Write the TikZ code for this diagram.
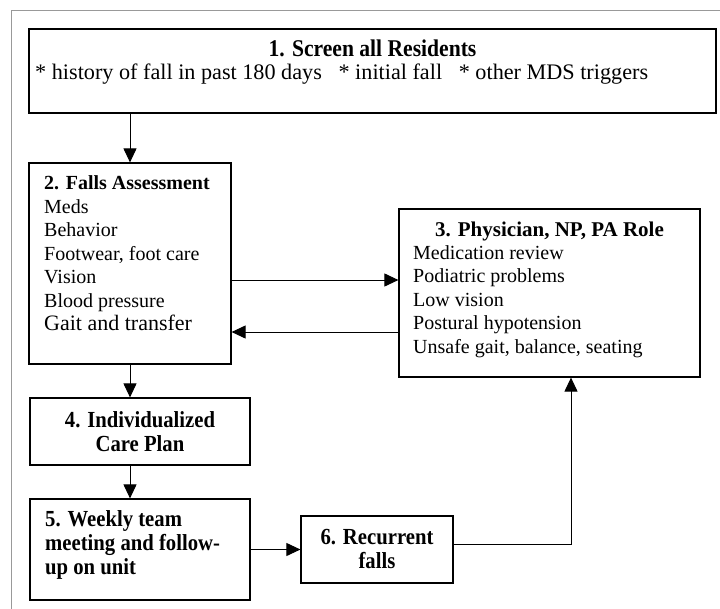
\documentclass[tikz,border=0pt]{standalone}
\usepackage{fontspec}
\setmainfont{Liberation Serif}
\newfontfamily\condfont[FakeStretch=0.9]{Liberation Serif}
\usetikzlibrary{arrows.meta}

\tikzset{
  box/.style={draw, line width=1.2pt, inner sep=0pt},
  txt/.style={inner sep=0pt, font=\fontsize{20}{23.5}\selectfont},
  head/.style={inner sep=0pt, font=\fontsize{21}{23.5}\selectfont\bfseries},
  condhead/.style={inner sep=0pt, font=\condfont\fontsize{23}{24}\selectfont\bfseries},
  arr/.style={line width=1pt, -{Triangle[length=14pt,width=13pt]}}
}

\begin{document}
\begin{tikzpicture}[x=1pt, y=-1pt]
    \useasboundingbox (0,0) rectangle (720,608);

    % Frame
    \draw[gray!80, line width=0.9pt] (11,630) -- (11,10.5) -- (740,10.5);

    % Boxes
    \node[box, minimum width=687pt, minimum height=84pt] (screen) at (372.5,71) {};
    \node[box, minimum width=202pt, minimum height=201pt] (assess) at (130,263.5) {};
    \node[box, minimum width=301pt, minimum height=168pt] (role) at (549.5,293) {};
    \node[box, minimum width=220pt, minimum height=67pt] (plan) at (140,431.5) {};
    \node[box, minimum width=220pt, minimum height=101pt] (meet) at (140,549.5) {};
    \node[box, minimum width=152pt, minimum height=67pt] (recur) at (377,549.5) {};

    % Texts
    \node[condhead, anchor=north, font=\condfont\fontsize{24}{24}\selectfont\bfseries] (screenhead) at (372.5,39.5)
        {1. Screen all Residents};
    \node[txt, anchor=north west, font=\fontsize{22.2}{24}\selectfont] (screentxt) at (35,64)
        {* history of fall in past 180 days\hspace{0.5em} * initial fall\hspace{0.5em} * other MDS triggers};
    \node[txt, anchor=north west, align=left] (assesstxt) at (44,175.5)
        {\textbf{2. Falls Assessment}\\Meds\\Behavior\\Footwear, foot care\\Vision\\Blood pressure\\
         {\fontsize{22}{23.5}\selectfont Gait and transfer}};
    \node[head, anchor=north] (rolehead) at (549.5,222) {3. Physician, NP, PA Role};
    \node[txt, anchor=north west, align=left] (roletxt) at (413,245)
        {Medication review\\Podiatric problems\\Low vision\\Postural hypotension\\Unsafe gait, balance, seating};
    \node[condhead, anchor=north, align=center] (plantxt) at (140,411) {4. Individualized\\Care Plan};
    \node[condhead, anchor=north west, align=left] (meettxt) at (45,510.5)
        {5. Weekly team\\meeting and follow-\\up on unit};
    \node[condhead, anchor=north, align=center] (recurtxt) at (377,529) {6. Recurrent\\falls};

    % Arrows
    \draw[arr] (screen.south -| assess.north) -- (assess.north);
    \draw[arr] ([yshift=-16.5pt]assess.east) -- ([yshift=-16.5pt]assess.east -| role.west);
    \draw[arr] ([yshift=-39pt]role.west) -- ([yshift=-39pt]role.west -| assess.east);
    \draw[arr] (assess.south) -- (assess.south |- plan.north);
    \draw[arr] (plan.south -| assess.south) -- (meet.north -| assess.south);
    \draw[arr] (meet.east) -- (recur.west);
    \draw[arr] ([yshift=5pt]recur.east) -| ([xshift=21.5pt]role.south);

\end{tikzpicture}
\end{document}
